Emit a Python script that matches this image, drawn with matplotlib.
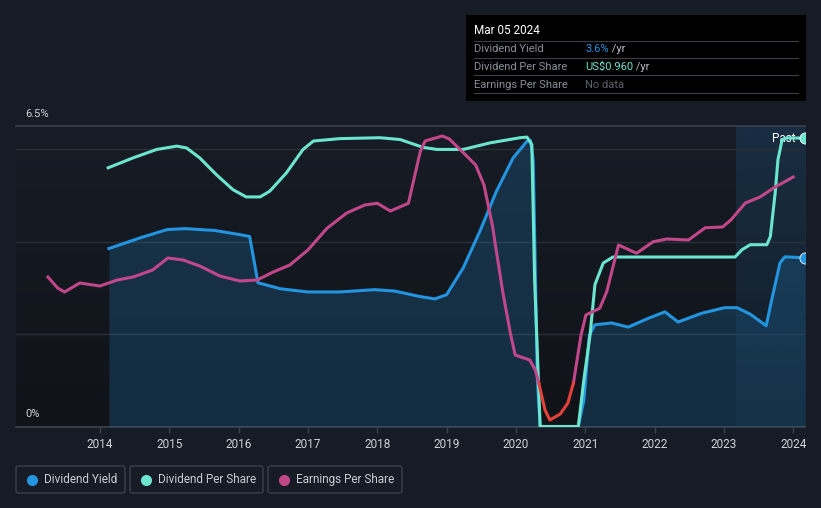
import numpy as np
import matplotlib.pyplot as plt
from matplotlib.patches import Rectangle, FancyBboxPatch
from matplotlib.lines import Line2D

plt.rcParams['font.family'] = ['Roboto', 'DejaVu Sans']

# Dividend yield (%)
dy_year = [2014.13, 2014.58, 2014.97, 2015.23, 2015.66, 2016.02, 2016.16, 2016.28, 2016.60,
           2017.00, 2017.46, 2017.96, 2018.25, 2018.62, 2018.83, 2019.00, 2019.24, 2019.48,
           2019.72, 2019.96, 2020.16, 2020.21, 2020.25, 2020.31, 2020.35, 2020.90, 2020.98,
           2021.06, 2021.14, 2021.38, 2021.62, 2021.91, 2022.15, 2022.34, 2022.68, 2023.01,
           2023.19, 2023.38, 2023.61, 2023.70, 2023.81, 2023.88, 2024.17]
dy_val = [3.85, 4.08, 4.26, 4.28, 4.24, 4.15, 4.11, 3.11, 2.98,
          2.91, 2.91, 2.96, 2.93, 2.81, 2.76, 2.85, 3.43, 4.22,
          5.09, 5.81, 6.17, 6.19, 5.77, 1.00, 0.0, 0.0, 0.57,
          1.98, 2.20, 2.24, 2.15, 2.34, 2.48, 2.26, 2.45, 2.57,
          2.57, 2.43, 2.18, 2.81, 3.54, 3.67, 3.65]

# Dividend per share (US$)
dps_year = [2014.12, 2014.48, 2014.82, 2015.11, 2015.25, 2015.44, 2015.68, 2015.92, 2016.11,
            2016.31, 2016.45, 2016.69, 2016.93, 2017.08, 2017.46, 2018.04, 2018.33, 2018.66,
            2018.86, 2019.24, 2019.63, 2020.06, 2020.16, 2020.23, 2020.27, 2020.35, 2020.90,
            2020.98, 2021.07, 2021.14, 2021.26, 2021.40, 2023.16, 2023.26, 2023.38, 2023.62,
            2023.67, 2023.74, 2023.78, 2023.84, 2023.90, 2024.17]
dps_val = [0.861, 0.894, 0.922, 0.933, 0.927, 0.894, 0.838, 0.788, 0.764,
           0.764, 0.783, 0.844, 0.922, 0.950, 0.958, 0.961, 0.955, 0.929,
           0.922, 0.922, 0.944, 0.961, 0.963, 0.938, 0.488, 0.0, 0.0,
           0.155, 0.305, 0.472, 0.544, 0.564, 0.564, 0.588, 0.605, 0.605,
           0.632, 0.778, 0.888, 0.955, 0.96, 0.96]

# Earnings per share (US$)
eps_year = [2013.25, 2013.39, 2013.49, 2013.71, 2014.00, 2014.25, 2014.48, 2014.76, 2014.98,
            2015.20, 2015.44, 2015.73, 2016.02, 2016.27, 2016.50, 2016.74, 2017.00, 2017.28,
            2017.56, 2017.82, 2018.00, 2018.19, 2018.45, 2018.62, 2018.69, 2018.94, 2019.04,
            2019.25, 2019.42, 2019.54, 2019.66, 2019.81, 2019.92, 2019.99, 2020.20, 2020.28,
            2020.33, 2020.42, 2020.49, 2020.64, 2020.75, 2020.83, 2020.94, 2021.01, 2021.21,
            2021.31, 2021.48, 2021.74, 2021.98, 2022.18, 2022.49, 2022.73, 2022.98, 2023.10,
            2023.31, 2023.52, 2023.74, 2024.00]
eps_val = [0.424, 0.380, 0.364, 0.400, 0.388, 0.412, 0.424, 0.452, 0.500,
           0.492, 0.468, 0.428, 0.408, 0.412, 0.444, 0.472, 0.532, 0.620,
           0.680, 0.712, 0.719, 0.688, 0.719, 0.925, 0.968, 0.988, 0.976,
           0.919, 0.872, 0.792, 0.632, 0.365, 0.200, 0.112, 0.092, 0.052,
           0.0, -0.108, -0.148, -0.124, -0.080, 0.0, 0.192, 0.272, 0.299,
           0.365, 0.552, 0.519, 0.565, 0.576, 0.572, 0.621, 0.624, 0.652,
           0.720, 0.744, 0.784, 0.824]

years = [2014, 2015, 2016, 2017, 2018, 2019, 2020, 2021, 2022, 2023, 2024]

BG = '#161b25'
BLUE = '#2394df'
TEAL = '#6ce5cf'
PINK = '#c2478a'
RED = '#e5413a'
GRID = '#2a2f38'
TXT = '#d0d3d8'

W, H = 821, 508
fig = plt.figure(figsize=(W / 100, H / 100), dpi=100)
fig.set_facecolor(BG)

x0, x1 = 2012.79, 2024.17
ax = fig.add_axes([16 / W, 1 - 426.5 / H, (805 - 16) / W, 300.5 / H])
ax.set_xlim(x0, x1)
ax.set_ylim(0, 6.5)
ax.patch.set_visible(False)

# plot background: slightly darker towards the top
grad = np.linspace(0, 1, 256).reshape(-1, 1)
top = np.array([0x10, 0x13, 0x18]) / 255
bot = np.array([0x17, 0x1c, 0x26]) / 255
bg_img = top + (bot - top) * grad
ax.imshow(bg_img[::-1].reshape(256, 1, 3), extent=[x0, x1, 0, 6.5], aspect='auto', zorder=0)

# "past" highlighted region
past_start = 2023.17
pg = np.zeros((256, 1, 4))
pg[..., 0:3] = np.array([0x1f, 0x55, 0x80]) / 255
pg[:, 0, 3] = np.linspace(0.12, 0.32, 256)
ax.imshow(pg[::-1], extent=[past_start, x1, 0, 6.5], aspect='auto', zorder=0.5)

for g in [2, 4, 6]:
    ax.axhline(g, color=GRID, lw=1, zorder=1)
ax.axhline(6.5, color='#3a3f48', lw=1.2, zorder=1, clip_on=False)
ax.axhline(0, color='#3d424b', lw=1.2, zorder=1, clip_on=False)

for s in ax.spines.values():
    s.set_visible(False)
ax.set_yticks([])
ax.set_xticks(years)
ax.set_xticklabels([str(y) for y in years], color=TXT, fontsize=8.5)
ax.tick_params(axis='x', length=4, width=1, color='#3d424b', pad=4)

ax.text(0.012, 6.76, '6.5%', transform=ax.get_yaxis_transform(), color=TXT,
        fontsize=8, ha='left', va='center')
ax.text(0.012, 0.27, '0%', transform=ax.get_yaxis_transform(), color=TXT,
        fontsize=8, ha='left', va='center')

# dividend yield
ax.fill_between(dy_year, dy_val, 0, color=BLUE, alpha=0.2, lw=0, zorder=2)
ax.plot(dy_year, dy_val, color=BLUE, lw=2.2, zorder=4, solid_joinstyle='round')
ax.plot(dy_year[-1], dy_val[-1], 'o', ms=8, color=BLUE, mec='white', mew=0.6, zorder=6, clip_on=True)

# dividend per share on its own scale
ax2 = fig.add_axes(ax.get_position(), sharex=ax)
ax2.set_ylim(0, 1.0)
ax2.patch.set_visible(False)
ax2.axis('off')
ax2.plot(dps_year, dps_val, color=TEAL, lw=2.2, zorder=4, solid_joinstyle='round')
ax2.plot(dps_year[-1], dps_val[-1], 'o', ms=8, color=TEAL, mec='white', mew=0.6, zorder=6, clip_on=True)
ax2.text(2024.04, dps_val[-1], 'Past', color='white', fontsize=8.5, ha='right', va='center')

# earnings per share on its own scale, red where negative
ax3 = fig.add_axes(ax.get_position(), sharex=ax)
ax3.set_ylim(-0.174, 1.028)
ax3.patch.set_visible(False)
ax3.axis('off')
eps = np.array(eps_val)
ax3.plot(eps_year, np.where(eps >= 0, eps, np.nan), color=PINK, lw=2.2, solid_joinstyle='round')
ax3.plot(eps_year, np.where(eps <= 0, eps, np.nan), color=RED, lw=2.2, solid_joinstyle='round')
ax.set_xlim(x0, x1)

# tooltip box
def fx(px):
    return px / W

def fy(py):
    return 1 - py / H

fig.add_artist(Rectangle((fx(466), fy(101)), fx(806) - fx(466), fy(15) - fy(101),
                         transform=fig.transFigure, facecolor='black', edgecolor='none'))
fig.text(fx(474), fy(31), 'Mar 05 2024', color='white', fontsize=8.5, va='center')
for ly in [41, 58, 75, 93]:
    fig.add_artist(Line2D([fx(474), fx(798)], [fy(ly), fy(ly)], transform=fig.transFigure,
                          color='#3a3d42', lw=0.8))
rows = [('Dividend Yield', '3.6%', BLUE, ' /yr'),
        ('Dividend Per Share', 'US$0.960', TEAL, ' /yr'),
        ('Earnings Per Share', 'No data', '#5f636a', '')]
for i, (lab, val, col, unit) in enumerate(rows):
    yy = fy(49.5 + i * 17.5)
    fig.text(fx(474), yy, lab, color='#8b9099', fontsize=8, va='center')
    t = fig.text(fx(585), yy, val, color=col, fontsize=8, va='center')
    if unit:
        fig.canvas.draw()
        bb = t.get_window_extent()
        fig.text(bb.x1 / W, yy, unit, color='#b9bcc2', fontsize=8, va='center')

# legend boxes
legend = [('Dividend Yield', BLUE, 16, 125), ('Dividend Per Share', TEAL, 130, 263),
          ('Earnings Per Share', PINK, 268, 402)]
for lab, col, bx0, bx1 in legend:
    fig.add_artist(FancyBboxPatch((fx(bx0), fy(493)), fx(bx1) - fx(bx0), fy(466) - fy(493),
                                  boxstyle='round,pad=0,rounding_size=0.004',
                                  transform=fig.transFigure, facecolor='none',
                                  edgecolor='#3a3f48', lw=1))
    fig.add_artist(Line2D([fx(bx0 + 16)], [fy(479.5)], marker='o', ms=7, color=col,
                          transform=fig.transFigure))
    fig.text(fx(bx0 + 28), fy(479.5), lab, color='#c8ccd2', fontsize=8.5, va='center')

plt.savefig('out.png', facecolor=fig.get_facecolor(), dpi=100)
